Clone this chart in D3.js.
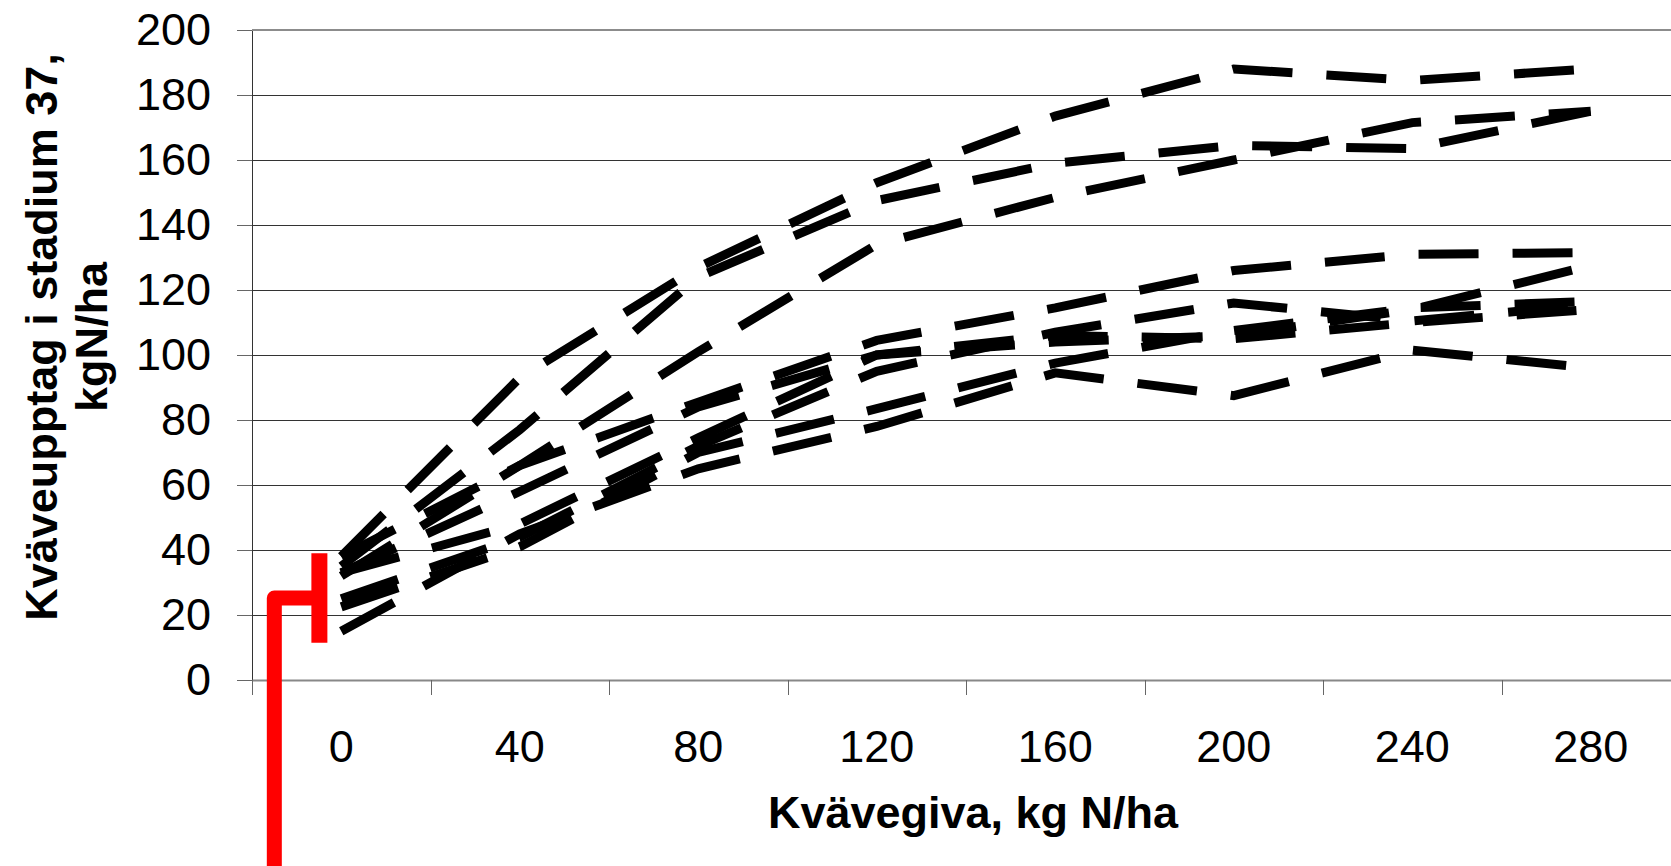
<!DOCTYPE html>
<html>
<head>
<meta charset="utf-8">
<script src="https://cdn.jsdelivr.net/npm/d3@7"></script>
<style>
	body { margin: 0; background: #fff; }
	svg { display: block; font-family: "Liberation Sans", Arial, sans-serif; }
</style>
</head>
<body>
<div id="chart-area"></div>
<script>
// kg N/ha, one column per category
const categories = [0, 40, 80, 120, 160, 200, 240, 280];
const yTicks = [0, 20, 40, 60, 80, 100, 120, 140, 160, 180, 200];

// N uptake at stage 37, one array per trial
const trial1 = [38, 93, 127, 153, 173.5, 188, 184.5, 188];
const trial2 = [35, 77, 124, 147.5, 159, 164.5, 163.5, 175];
const trial3 = [32, 66, 101, 134, 148.5, 160, 171.5, 175];
const trial4 = [38, 66, 85.5, 104.5, 114.5, 126, 131, 131.5];
const trial5 = [33, 58, 84, 100, 104, 106, 114, 127.5];
const trial6 = [33, 48, 74.5, 100, 106, 105, 110, 114];
const trial7 = [25, 44, 72, 95, 107, 116, 110.5, 115.5];
const trial8 = [22.5, 41, 70, 83.5, 97.5, 107.5, 114.5, 116.5];
const trial9 = [15, 45, 65, 78, 94.5, 87.5, 101.5, 96];

// red marker: bar from low to high, elbow at level
const markX = -4.9;
const markRange = [11.5, 39];
const stemX = -15;
const stemLevel = 25.2;
const stemBottom = -60;

var margin = { top: 30, left: 252 };
var width = 1428,
	height = 650;

var svg = d3.select("#chart-area")
	.append("svg")
		.attr("width", 1671)
		.attr("height", 866);

var g = svg.append("g")
	.attr("transform", "translate(" + margin.left + ", " + margin.top + ")");

// x-scale (categories sit in the middle of 40-wide bands)
var x = d3.scaleLinear()
	.domain([-20, 300])
	.range([0, width]);

// y-scale
var y = d3.scaleLinear()
	.domain([0, 200])
	.range([height, 0]);

// gridlines
g.selectAll(".grid")
	.data(yTicks.filter((d) => d > 0))
	.enter()
	.append("line")
		.attr("x1", 0)
		.attr("x2", width)
		.attr("y1", (d) => y(d))
		.attr("y2", (d) => y(d))
		.attr("stroke", (d) => d == 200 ? "#8c8c8c" : "#333")
		.attr("stroke-width", (d) => d == 200 ? 2 : 1)
		.attr("shape-rendering", "crispEdges");

// y-axis
var yAxis = g.append("g")
	.call(d3.axisLeft(y).tickValues(yTicks).tickSize(15).tickSizeOuter(0).tickPadding(26));
yAxis.select(".domain").attr("stroke", "#333").attr("shape-rendering", "crispEdges");
yAxis.selectAll(".tick line").attr("stroke", "#666").attr("shape-rendering", "crispEdges");
yAxis.selectAll("text")
	.attr("fill", "#000")
	.style("font-size", "45px")
	.style("font-family", "'Liberation Sans', Arial, sans-serif");

// x-axis, ticks between the categories
var xAxis = g.append("g")
	.attr("transform", "translate(0, " + height + ")")
	.call(d3.axisBottom(x)
		.tickValues(categories.map((d) => d - 20))
		.tickSize(15)
		.tickSizeOuter(0)
		.tickFormat(""));
xAxis.select(".domain").attr("stroke", "#888").attr("stroke-width", 2);
xAxis.selectAll(".tick line").attr("stroke", "#666").attr("shape-rendering", "crispEdges");

// x-labels
g.selectAll(".xlab")
	.data(categories)
	.enter()
	.append("text")
		.attr("x", (d) => x(d))
		.attr("y", height + 82)
		.attr("text-anchor", "middle")
		.style("font-size", "45px")
		.text((d) => d);

// dashed lines
var line = d3.line()
	.x((d, i) => x(categories[i]))
	.y((d) => y(d));

g.selectAll(".trial")
	.data([trial1, trial2, trial3, trial4, trial5, trial6, trial7, trial8, trial9])
	.enter()
	.append("path")
		.attr("d", line)
		.attr("fill", "none")
		.attr("stroke", "#000")
		.attr("stroke-width", 9)
		.attr("stroke-dasharray", "60,34")
		.attr("stroke-linecap", "butt");

// red marker
var pt = d3.line()
	.x((d) => x(d[0]))
	.y((d) => y(d[1]));

g.append("path")
	.attr("d", pt([[stemX, stemBottom], [stemX, stemLevel], [markX, stemLevel]]))
	.attr("fill", "none")
	.attr("stroke", "#ff0000")
	.attr("stroke-width", 15)
	.attr("stroke-linejoin", "round");

g.append("path")
	.attr("d", pt([[markX, markRange[0]], [markX, markRange[1]]]))
	.attr("fill", "none")
	.attr("stroke", "#ff0000")
	.attr("stroke-width", 16);

// x-lable
svg.append("text")
	.attr("x", 973)
	.attr("y", 828)
	.attr("text-anchor", "middle")
	.style("font-size", "45px")
	.style("font-weight", "bold")
	.text("Kvävegiva, kg N/ha");

// y-lable
var yt = svg.append("text")
	.attr("transform", "rotate(-90)")
	.attr("text-anchor", "middle")
	.style("font-size", "45px")
	.style("font-weight", "bold");
yt.append("tspan").attr("x", -337).attr("y", 57).text("Kväveupptag i stadium 37,");
yt.append("tspan").attr("x", -337).attr("y", 107).text("kgN/ha");
</script>
</body>
</html>
